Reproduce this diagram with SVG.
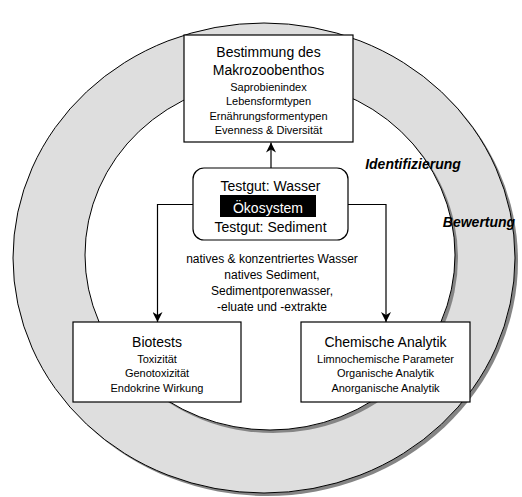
<svg xmlns="http://www.w3.org/2000/svg" width="522" height="497" viewBox="0 0 522 497">
  <style>
    text { font-family: "Liberation Sans", Arial, sans-serif; fill: #000; text-anchor: middle; }
    .t14 { font-size: 14px; }
    .t12 { font-size: 12px; }
    .t11 { font-size: 11px; }
    .label { font-size: 14px; font-weight: bold; font-style: italic; }
    .box { fill: #fff; stroke: #000; stroke-width: 1.2; }
    .shadow { fill: #858585; }
    .ring { stroke: #000; stroke-width: 1; }
    .conn { fill: none; stroke: #000; stroke-width: 1.2; }
  </style>
  <defs>
    <marker id="arrow" viewBox="0 0 10 10" refX="10" refY="5" markerWidth="10" markerHeight="10" markerUnits="userSpaceOnUse" orient="auto">
      <path d="M0,0 L10,5 L0,10 L3,5 Z" fill="#000"/>
    </marker>
  </defs>

  <!-- outer ring: Bewertung -->
  <g id="ring-outer">
    <ellipse class="shadow" cx="267" cy="261" rx="251" ry="235"/>
    <ellipse class="ring" cx="264" cy="258" rx="251" ry="235" fill="#dedede"/>
  </g>

  <!-- inner ring: Identifizierung -->
  <g id="ring-inner">
    <ellipse class="shadow" cx="273" cy="258" rx="185" ry="175"/>
    <ellipse class="ring" cx="270" cy="255" rx="185" ry="175" fill="#fff"/>
  </g>

  <text id="label-identifizierung" class="label" x="413" y="169">Identifizierung</text>
  <text id="label-bewertung" class="label" x="479" y="227">Bewertung</text>

  <!-- connectors -->
  <g id="connectors">
    <path class="conn" d="M271,168 L271,142.5" marker-end="url(#arrow)"/>
    <path class="conn" d="M193,204.5 L157.5,204.5 L157.5,322" marker-end="url(#arrow)"/>
    <path class="conn" d="M348,204.5 L386,204.5 L386,322" marker-end="url(#arrow)"/>
  </g>

  <g id="node-makrozoobenthos">
    <rect class="box" x="184" y="35" width="169" height="107"/>
    <text class="t14" x="268.5" y="57">Bestimmung des</text>
    <text class="t14" x="268.5" y="75">Makrozoobenthos</text>
    <text class="t11" x="268.5" y="91">Saprobienindex</text>
    <text class="t11" x="268.5" y="105">Lebensformtypen</text>
    <text class="t11" x="268.5" y="120">Ernährungsformentypen</text>
    <text class="t11" x="268.5" y="134">Evenness &amp; Diversität</text>
  </g>

  <g id="node-oekosystem">
    <rect class="box" x="193" y="168" width="155" height="72" rx="11" ry="11"/>
    <text class="t14" x="270.5" y="191">Testgut: Wasser</text>
    <rect x="220" y="195" width="96" height="22" fill="#000"/>
    <text class="t14" x="268" y="213" style="fill:#fff">Ökosystem</text>
    <text class="t14" x="270.5" y="232">Testgut: Sediment</text>
  </g>

  <g id="text-testgut">
    <text class="t12" x="272" y="262.5">natives &amp; konzentriertes Wasser</text>
    <text class="t12" x="272" y="279">natives Sediment,</text>
    <text class="t12" x="272" y="295">Sedimentporenwasser,</text>
    <text class="t12" x="272" y="310.5">-eluate und -extrakte</text>
  </g>

  <g id="node-biotests">
    <rect class="box" x="73" y="322" width="168" height="80"/>
    <text class="t14" x="157" y="346.5">Biotests</text>
    <text class="t11" x="157" y="363">Toxizität</text>
    <text class="t11" x="157" y="377">Genotoxizität</text>
    <text class="t11" x="157" y="391.5">Endokrine Wirkung</text>
  </g>

  <g id="node-chemie">
    <rect class="box" x="301" y="322" width="169" height="80"/>
    <text class="t14" x="385.5" y="346.5">Chemische Analytik</text>
    <text class="t11" x="385.5" y="363">Limnochemische Parameter</text>
    <text class="t11" x="385.5" y="377">Organische Analytik</text>
    <text class="t11" x="385.5" y="391.5">Anorganische Analytik</text>
  </g>
</svg>
